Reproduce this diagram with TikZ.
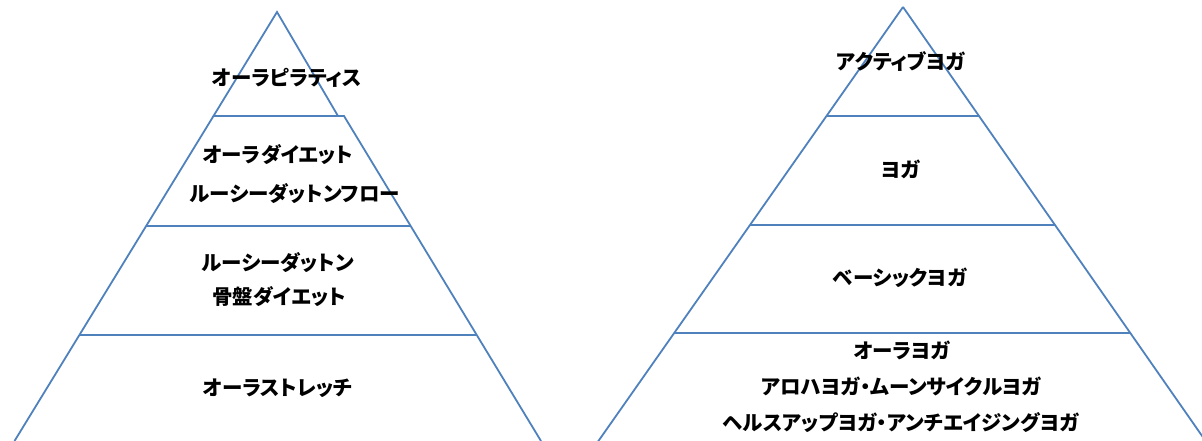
\documentclass[tikz,border=0pt]{standalone}
\usepackage{fontspec}
\newfontfamily\jpfont{Noto Sans CJK JP Black}[RawFeature=+palt]
\begin{document}
\begin{tikzpicture}[x=1pt,y=-1pt,
  tier/.style={draw=tierblue, line width=1.8pt, line join=miter},
  lbl/.style={font=\jpfont\fontsize{20.5}{24}\selectfont, text=black, inner sep=0pt, anchor=center}]
\definecolor{tierblue}{HTML}{4F81BD}
\useasboundingbox (0,0) rectangle (1202,440);
\clip (0,0) rectangle (1202,440);
% left pyramid
\draw[tier] (277,12) -- (338,116) -- (213.5,116) -- cycle;
\draw[tier] (213.5,116) -- (344,116) -- (541,441) ;
\draw[tier] (213.5,116) -- (14.5,441);
\draw[tier] (146,226) -- (410.5,226);
\draw[tier] (79,335) -- (476.5,335);
% right pyramid
\draw[tier] (903,7) -- (597,443);
\draw[tier] (903,7) -- (1207,443);
\draw[tier] (826,116) -- (979,116);
\draw[tier] (750,225) -- (1055,225);
\draw[tier] (673.5,333) -- (1131,333);
% left labels
\node[lbl] (l1) at (287,78) {オーラピラティス};
\node[lbl] (l2a) at (278,155) {オーラダイエット};
\node[lbl] (l2b) at (295,194) {ルーシーダットンフロー};
\node[lbl] (l3a) at (278,263) {ルーシーダットン};
\node[lbl] (l3b) at (279,297) {骨盤ダイエット};
\node[lbl] (l4) at (278,388) {オーラストレッチ};
% right labels
\node[lbl] (r1) at (901,61) {アクティブヨガ};
\node[lbl] (r2) at (901,169) {ヨガ};
\node[lbl] (r3) at (900,278) {ベーシックヨガ};
\node[lbl] (r4a) at (902,350) {オーラヨガ};
\node[lbl] (r4b) at (901.5,386) {アロハヨガ・ムーンサイクルヨガ};
\node[lbl] (r4c) at (901,423) {ヘルスアップヨガ・アンチエイジングヨガ};
\end{tikzpicture}
\end{document}
